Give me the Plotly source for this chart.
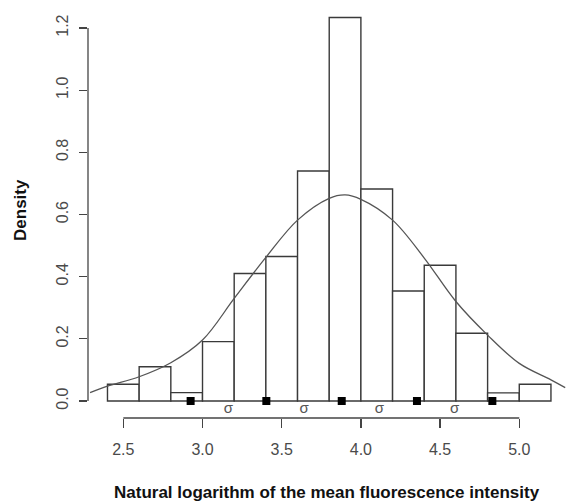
import plotly.graph_objects as go

# Histogram (density) data
bin_left = [2.4, 2.6, 2.8, 3.0, 3.2, 3.4, 3.6, 3.8, 4.0, 4.2, 4.4, 4.6, 4.8, 5.0]
bin_width = 0.2
density = [0.054, 0.110, 0.027, 0.191, 0.410, 0.465, 0.740, 1.234, 0.682, 0.354, 0.437, 0.218, 0.026, 0.054]

# Fitted normal curve
curve_x = [2.29, 2.4, 2.6, 2.8, 3.0, 3.2, 3.4, 3.6, 3.8, 3.9, 4.0, 4.2, 4.4, 4.6, 4.8, 5.0, 5.2, 5.29]
curve_y = [0.027, 0.048, 0.078, 0.123, 0.196, 0.330, 0.462, 0.582, 0.652, 0.663, 0.649, 0.582, 0.460, 0.320, 0.212, 0.121, 0.068, 0.043]

# Mean +/- k*sigma markers
sigma_marks = [2.925, 3.403, 3.879, 4.354, 4.830]
sigma_label = "σ"

x_ticks = [2.5, 3.0, 3.5, 4.0, 4.5, 5.0]
x_tick_text = ["2.5", "3.0", "3.5", "4.0", "4.5", "5.0"]
y_ticks = [0.0, 0.2, 0.4, 0.6, 0.8, 1.0, 1.2]
y_tick_text = ["0.0", "0.2", "0.4", "0.6", "0.8", "1.0", "1.2"]

x_title = "Natural logarithm of the mean fluorescence intensity"
y_title = "Density"

FONT = "Liberation Sans, Arial, sans-serif"
AX = "#444444"

centers = [b + bin_width / 2 for b in bin_left]
sigma_mid = [(a + b) / 2 for a, b in zip(sigma_marks[:-1], sigma_marks[1:])]

fig = go.Figure()
fig.add_trace(go.Bar(
    x=centers, y=density, width=bin_width,
    marker=dict(color="white", line=dict(color="#3a3a3a", width=1.4)),
    hoverinfo="skip",
))
fig.add_trace(go.Scatter(
    x=curve_x, y=curve_y, mode="lines",
    line=dict(color="#555555", width=1.3, shape="spline"),
    hoverinfo="skip",
))
fig.add_trace(go.Scatter(
    x=sigma_marks, y=[0] * len(sigma_marks), mode="markers",
    marker=dict(symbol="square", size=8, color="black"),
    hoverinfo="skip",
))
fig.add_trace(go.Scatter(
    x=sigma_mid, y=[-0.026] * len(sigma_mid), mode="text",
    text=[sigma_label] * len(sigma_mid),
    textfont=dict(family=FONT, size=15, color="#555555"),
    hoverinfo="skip",
))

# R-style axis lines spanning only the tick range
fig.add_shape(type="line", xref="paper", yref="y", x0=0, x1=0,
              y0=min(y_ticks), y1=max(y_ticks), line=dict(color=AX, width=1.3))
fig.add_shape(type="line", xref="x", yref="paper", x0=min(x_ticks), x1=max(x_ticks),
              y0=0, y1=0, line=dict(color=AX, width=1.3))

fig.update_layout(
    width=566, height=502,
    margin=dict(l=88, r=0, t=2, b=84, autoexpand=False),
    paper_bgcolor="white", plot_bgcolor="white",
    showlegend=False, bargap=0,
    font=dict(family=FONT, size=16, color=AX),
    xaxis=dict(range=[2.277, 5.295], tickvals=x_ticks, ticktext=x_tick_text,
               ticks="outside", ticklen=9, tickwidth=1.3, tickcolor=AX,
               showgrid=False, zeroline=False, showline=False, automargin=False,
               tickfont=dict(family=FONT, size=16, color="#4a4a4a"),
               ticklabelstandoff=8),
    yaxis=dict(range=[-0.0547, 1.2838], tickvals=y_ticks, ticktext=y_tick_text,
               ticks="outside", ticklen=8, tickwidth=1.3, tickcolor=AX,
               tickangle=-90, automargin=False,
               showgrid=False, zeroline=False, showline=False,
               tickfont=dict(family=FONT, size=16, color="#4a4a4a"),
               ticklabelstandoff=5),
    annotations=[
        dict(text="<b>" + x_title + "</b>", xref="paper", yref="paper",
             x=0.5, y=-0.180, xanchor="center", yanchor="middle", showarrow=False,
             font=dict(family=FONT, size=17, color="#111111")),
        dict(text="<b>" + y_title + "</b>", xref="paper", yref="paper",
             x=-0.1423, y=0.5, xanchor="center", yanchor="middle", showarrow=False,
             textangle=-90, font=dict(family=FONT, size=17, color="#111111")),
    ],
)

fig.write_html(
    "out.html",
    config={"displayModeBar": False, "staticPlot": True},
    post_script="document.body.style.margin='0';document.body.style.overflow='hidden';",
)
